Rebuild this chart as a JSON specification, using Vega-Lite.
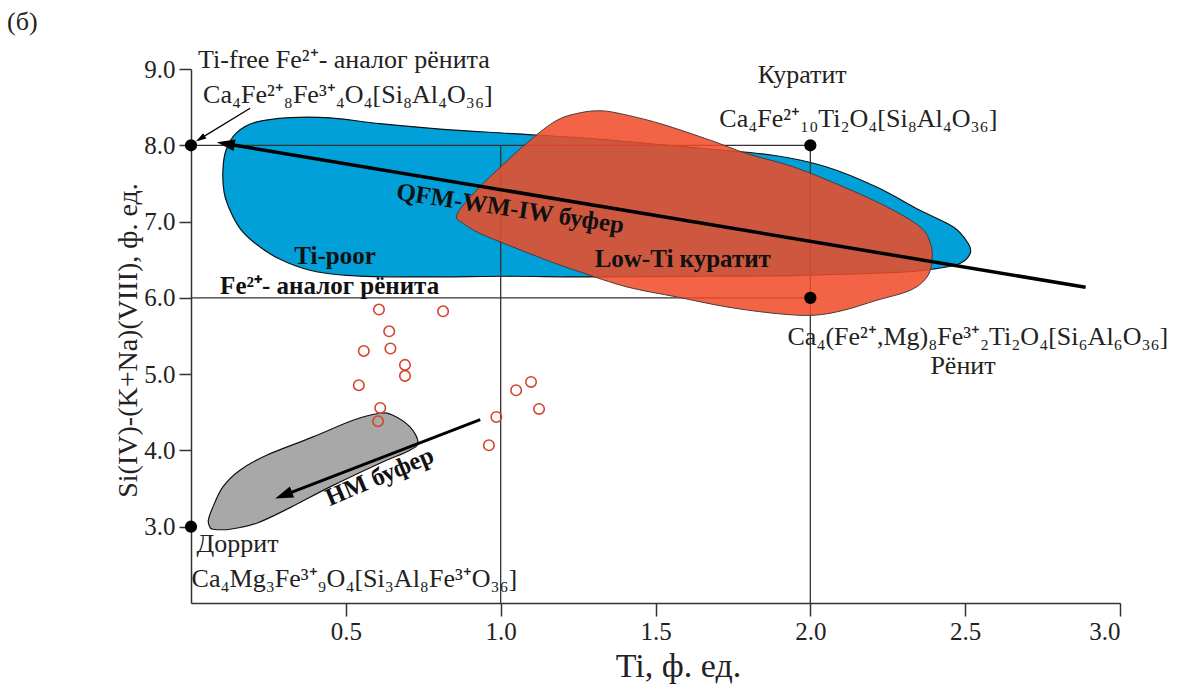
{
  "$schema": "https://vega.github.io/schema/vega-lite/v6.json",
  "width": 929,
  "height": 534,
  "autosize": {"type": "none"},
  "padding": {"left": 191, "top": 69, "right": 57, "bottom": 83},
  "background": "white",
  "config": {"view": {"stroke": null}},
  "datasets": {
    "blue": [
      {"i":1,"x":0.103,"y":7.672},{"i":2,"x":0.113,"y":7.934},{"i":3,"x":0.145,"y":8.157},{"i":4,"x":0.207,"y":8.301},
      {"i":5,"x":0.320,"y":8.363},{"i":6,"x":0.449,"y":8.360},{"i":7,"x":0.610,"y":8.284},{"i":8,"x":0.826,"y":8.206},
      {"i":9,"x":1.040,"y":8.153},{"i":10,"x":1.321,"y":8.079},{"i":11,"x":1.644,"y":7.961},{"i":12,"x":1.880,"y":7.869},
      {"i":13,"x":2.053,"y":7.716},{"i":14,"x":2.214,"y":7.453},{"i":15,"x":2.354,"y":7.148},{"i":16,"x":2.462,"y":6.929},
      {"i":17,"x":2.510,"y":6.712},{"i":18,"x":2.516,"y":6.581},{"i":19,"x":2.483,"y":6.450},{"i":20,"x":2.408,"y":6.384},
      {"i":21,"x":2.290,"y":6.336},{"i":22,"x":1.967,"y":6.296},{"i":23,"x":1.644,"y":6.283},{"i":24,"x":1.256,"y":6.274},
      {"i":25,"x":1.040,"y":6.283},{"i":26,"x":0.717,"y":6.274},{"i":27,"x":0.503,"y":6.296},{"i":28,"x":0.384,"y":6.362},
      {"i":29,"x":0.281,"y":6.519},{"i":30,"x":0.207,"y":6.716},{"i":31,"x":0.158,"y":6.912},{"i":32,"x":0.126,"y":7.148},
      {"i":33,"x":0.107,"y":7.384}
    ],
    "red": [
      {"i":1,"x":0.858,"y":7.083},{"i":2,"x":0.912,"y":7.367},{"i":3,"x":0.988,"y":7.672},{"i":4,"x":1.095,"y":8.066},
      {"i":5,"x":1.182,"y":8.328},{"i":6,"x":1.257,"y":8.426},{"i":7,"x":1.321,"y":8.452},{"i":8,"x":1.386,"y":8.415},
      {"i":9,"x":1.515,"y":8.284},{"i":10,"x":1.677,"y":8.066},{"i":11,"x":1.795,"y":7.891},{"i":12,"x":1.946,"y":7.716},
      {"i":13,"x":2.108,"y":7.453},{"i":14,"x":2.248,"y":7.191},{"i":15,"x":2.355,"y":6.929},{"i":16,"x":2.388,"y":6.712},
      {"i":17,"x":2.393,"y":6.493},{"i":18,"x":2.377,"y":6.274},{"i":19,"x":2.323,"y":6.100},{"i":20,"x":2.215,"y":5.969},
      {"i":21,"x":2.108,"y":5.838},{"i":22,"x":2.011,"y":5.772},{"i":23,"x":1.892,"y":5.794},{"i":24,"x":1.731,"y":5.881},
      {"i":25,"x":1.569,"y":6.012},{"i":26,"x":1.408,"y":6.143},{"i":27,"x":1.257,"y":6.339},{"i":28,"x":1.149,"y":6.493},
      {"i":29,"x":1.040,"y":6.667},{"i":30,"x":0.934,"y":6.843},{"i":31,"x":0.880,"y":6.974}
    ],
    "gray": [
      {"i":1,"x":0.061,"y":2.997},{"i":2,"x":0.056,"y":3.085},{"i":3,"x":0.071,"y":3.260},{"i":4,"x":0.103,"y":3.522},
      {"i":5,"x":0.158,"y":3.741},{"i":6,"x":0.244,"y":3.937},{"i":7,"x":0.394,"y":4.177},{"i":8,"x":0.523,"y":4.396},
      {"i":9,"x":0.610,"y":4.487},{"i":10,"x":0.652,"y":4.461},{"i":11,"x":0.707,"y":4.308},{"i":12,"x":0.733,"y":4.111},
      {"i":13,"x":0.707,"y":4.003},{"i":14,"x":0.610,"y":3.832},{"i":15,"x":0.449,"y":3.522},{"i":16,"x":0.320,"y":3.250},
      {"i":17,"x":0.212,"y":3.046},{"i":18,"x":0.126,"y":2.967},{"i":19,"x":0.071,"y":2.967}
    ],
    "rules": [
      {"x":0,"x2":2,"y":8,"y2":8},
      {"x":0,"x2":2,"y":6,"y2":6},
      {"x":1,"x2":1,"y":8,"y2":2},
      {"x":2,"x2":2,"y":8,"y2":2}
    ],
    "samples": [
      {"x":0.607,"y":5.847},{"x":0.814,"y":5.824},{"x":0.640,"y":5.562},{"x":0.558,"y":5.304},{"x":0.644,"y":5.336},
      {"x":0.691,"y":5.121},{"x":0.691,"y":4.977},{"x":0.542,"y":4.855},{"x":0.611,"y":4.557},{"x":0.604,"y":4.383},
      {"x":1.098,"y":4.898},{"x":1.050,"y":4.789},{"x":1.124,"y":4.544},{"x":0.986,"y":4.439},{"x":0.962,"y":4.068}
    ],
    "refs": [
      {"x":0,"y":8},{"x":2,"y":8},{"x":2,"y":6},{"x":0,"y":3}
    ],
    "qfm": [{"i":1,"x":2.889,"y":6.139},{"i":2,"x":0.112,"y":8.02}],
    "hm": [{"i":1,"x":0.934,"y":4.405},{"i":2,"x":0.299,"y":3.412}],
    "tif": [{"i":1,"x":0.191,"y":8.485},{"i":2,"x":0.030,"y":8.087}],
    "labels_left": [
      {"text":"(б)","x":-0.594,"y":9.511},
      {"text":"Ti-free Fe²⁺- аналог рёнита","x":0.023,"y":9.009},
      {"text":"Ca₄Fe²⁺₈Fe³⁺₄O₄[Si₈Al₄O₃₆]","x":0.039,"y":8.55},
      {"text":"Доррит","x":0.018,"y":2.67},
      {"text":"Ca₄Mg₃Fe³⁺₉O₄[Si₃Al₈Fe³⁺O₃₆]","x":0.002,"y":2.211}
    ],
    "labels_center": [
      {"text":"Куратит","x":1.974,"y":8.819},
      {"text":"Ca₄Fe²⁺₁₀Ti₂O₄[Si₈Al₄O₃₆]","x":2.155,"y":8.24},
      {"text":"Ca₄(Fe²⁺,Mg)₈Fe³⁺₂Ti₂O₄[Si₆Al₆O₃₆]","x":2.541,"y":5.379},
      {"text":"Рёнит","x":2.493,"y":5.0}
    ],
    "bold_left": [
      {"text":"Fe²⁺- аналог рёнита","x":0.094,"y":6.056}
    ],
    "bold_center": [
      {"text":"Ti-poor","x":0.465,"y":6.45},
      {"text":"Low-Ti куратит","x":1.588,"y":6.405}
    ],
    "qfm_label": [{"text":"QFM-WM-IW буфер","x":1.027,"y":7.069}],
    "hm_label": [{"text":"HM буфер","x":0.619,"y":3.564}]
  },
  "encoding": {
    "x": {
      "field": "x", "type": "quantitative",
      "scale": {"domain": [0, 3], "nice": false, "zero": false},
      "axis": {
        "title": "Ti, ф. ед.", "values": [0.5, 1, 1.5, 2, 2.5, 3], "format": ".1f",
        "grid": false, "domainColor": "#333", "domainWidth": 1.5, "tickColor": "#333", "tickWidth": 1.5, "tickSize": 13,
        "labelFont": "Liberation Serif, Times New Roman, serif", "labelFontSize": 25, "labelColor": "#222", "labelPadding": 3,
        "titleFont": "Liberation Serif, Times New Roman, serif", "titleFontSize": 34, "titleFontWeight": "normal", "titleColor": "#222",
        "titleX": 487, "titleY": 73, "titleBaseline": "alphabetic", "titleAlign": "center"
      }
    },
    "y": {
      "field": "y", "type": "quantitative",
      "scale": {"domain": [2, 9], "nice": false, "zero": false},
      "axis": {
        "title": "Si(IV)-(K+Na)(VIII), ф. ед.", "values": [3, 4, 5, 6, 7, 8, 9], "format": ".1f",
        "grid": false, "domainColor": "#333", "domainWidth": 1.5, "tickColor": "#333", "tickWidth": 1.5, "tickSize": 12,
        "labelFont": "Liberation Serif, Times New Roman, serif", "labelFontSize": 25, "labelColor": "#222", "labelPadding": 4,
        "titleFont": "Liberation Serif, Times New Roman, serif", "titleFontSize": 28, "titleFontWeight": "normal", "titleColor": "#222",
        "titleX": -55, "titleY": 271, "titleAngle": 270, "titleBaseline": "alphabetic", "titleAlign": "center"
      }
    }
  },
  "layer": [
    {
      "data": {"name": "blue"},
      "mark": {"type": "line", "interpolate": "cardinal-closed", "fill": "#02a0d8", "stroke": "#111", "strokeWidth": 1.2},
      "encoding": {"order": {"field": "i", "type": "quantitative"}}
    },
    {
      "data": {"name": "rules"},
      "mark": {"type": "rule", "color": "#333", "strokeWidth": 1.3},
      "encoding": {"x2": {"field": "x2"}, "y2": {"field": "y2"}}
    },
    {
      "data": {"name": "red"},
      "mark": {"type": "line", "interpolate": "cardinal-closed", "fill": "#f04a26", "fillOpacity": 0.86, "stroke": "#4a3a36", "strokeWidth": 1},
      "encoding": {"order": {"field": "i", "type": "quantitative"}}
    },
    {
      "data": {"name": "gray"},
      "mark": {"type": "line", "interpolate": "cardinal-closed", "fill": "#a8a8a8", "stroke": "#111", "strokeWidth": 1.2},
      "encoding": {"order": {"field": "i", "type": "quantitative"}}
    },
    {
      "data": {"name": "qfm"},
      "mark": {"type": "line", "color": "#000", "strokeWidth": 3.5},
      "encoding": {"order": {"field": "i", "type": "quantitative"}}
    },
    {
      "data": {"name": "hm"},
      "mark": {"type": "line", "color": "#000", "strokeWidth": 3},
      "encoding": {"order": {"field": "i", "type": "quantitative"}}
    },
    {
      "data": {"name": "tif"},
      "mark": {"type": "line", "color": "#000", "strokeWidth": 1.3},
      "encoding": {"order": {"field": "i", "type": "quantitative"}}
    },
    {
      "data": {"name": "qfm"},
      "transform": [{"filter": "datum.i == 2"}],
      "mark": {"type": "point", "shape": "M-1,0L1,-0.65L1,0.65Z", "filled": true, "color": "#000", "opacity": 1, "size": 324, "angle": 9.5}
    },
    {
      "data": {"name": "hm"},
      "transform": [{"filter": "datum.i == 2"}],
      "mark": {"type": "point", "shape": "M-1,0L1,-0.65L1,0.65Z", "filled": true, "color": "#000", "opacity": 1, "size": 324, "angle": 339}
    },
    {
      "data": {"name": "tif"},
      "transform": [{"filter": "datum.i == 2"}],
      "mark": {"type": "point", "shape": "M-1,0L1,-0.6L1,0.6Z", "filled": true, "color": "#000", "opacity": 1, "size": 110, "angle": 328.6}
    },
    {
      "data": {"name": "samples"},
      "mark": {"type": "point", "shape": "circle", "filled": false, "stroke": "#d2452d", "strokeWidth": 1.6, "opacity": 1, "size": 110}
    },
    {
      "data": {"name": "refs"},
      "mark": {"type": "point", "shape": "circle", "filled": true, "color": "#000", "opacity": 1, "size": 150}
    },
    {
      "data": {"name": "labels_left"},
      "mark": {"type": "text", "align": "left", "baseline": "alphabetic", "font": "Liberation Serif, Times New Roman, serif", "fontSize": 26, "color": "#222"},
      "encoding": {"text": {"field": "text"}}
    },
    {
      "data": {"name": "labels_center"},
      "mark": {"type": "text", "align": "center", "baseline": "alphabetic", "font": "Liberation Serif, Times New Roman, serif", "fontSize": 26, "color": "#222"},
      "encoding": {"text": {"field": "text"}}
    },
    {
      "data": {"name": "bold_left"},
      "mark": {"type": "text", "align": "left", "baseline": "alphabetic", "font": "Liberation Serif, Times New Roman, serif", "fontSize": 25, "fontWeight": "bold", "color": "#111"},
      "encoding": {"text": {"field": "text"}}
    },
    {
      "data": {"name": "bold_center"},
      "mark": {"type": "text", "align": "center", "baseline": "alphabetic", "font": "Liberation Serif, Times New Roman, serif", "fontSize": 25, "fontWeight": "bold", "color": "#111"},
      "encoding": {"text": {"field": "text"}}
    },
    {
      "data": {"name": "qfm_label"},
      "mark": {"type": "text", "align": "center", "baseline": "alphabetic", "font": "Liberation Serif, Times New Roman, serif", "fontSize": 25, "fontWeight": "bold", "color": "#111", "angle": 8.5},
      "encoding": {"text": {"field": "text"}}
    },
    {
      "data": {"name": "hm_label"},
      "mark": {"type": "text", "align": "center", "baseline": "alphabetic", "font": "Liberation Serif, Times New Roman, serif", "fontSize": 25, "fontWeight": "bold", "color": "#111", "angle": 337},
      "encoding": {"text": {"field": "text"}}
    }
  ]
}
